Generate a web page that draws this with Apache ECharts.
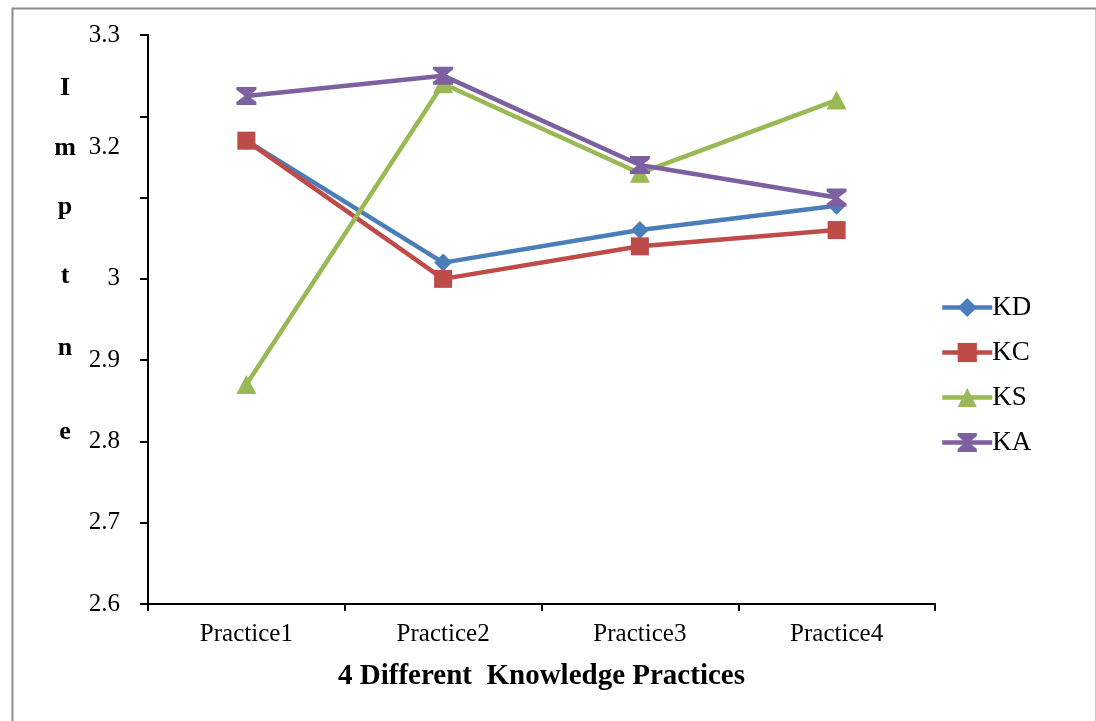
<!DOCTYPE html>
<html>
<head>
<meta charset="utf-8">
<script src="https://cdn.jsdelivr.net/npm/echarts@6/dist/echarts.min.js"></script>
<style>
  html, body { margin: 0; padding: 0; background: #ffffff; }
  #chart { width: 1096px; height: 721px; }
</style>
</head>
<body>
<div id="chart"></div>
<script>
// Categories and series values
const practices = ['Practice1', 'Practice2', 'Practice3', 'Practice4'];
const seriesNames = ['KD', 'KC', 'KS', 'KA'];
const kd = [3.17, 3.02, 3.06, 3.09];
const kc = [3.17, 3.00, 3.04, 3.06];
const ks = [2.87, 3.24, 3.13, 3.22];
const ka = [3.225, 3.25, 3.14, 3.10];
// Value axis tick labels (3.1 left unlabelled, 3.2 drawn separately below its tick)
const yTickLabels = { '2.6': '2.6', '2.7': '2.7', '2.8': '2.8', '2.9': '2.9', '3.0': '3', '3.3': '3.3' };
const yTitleLetters = ['I', 'm', 'p', 't', 'n', 'e'];
const xTitle = '4 Different  Knowledge Practices';

const FONT = '"Liberation Serif", "Times New Roman", serif';
const colors = ['#4A7EBB', '#BE4B48', '#98B954', '#7D60A0'];
const hourglass = 'path://M0,0 L10,0 L10,1.6 L6,5 L10,8.4 L10,10 L0,10 L0,8.4 L4,5 L0,1.6 Z';
const symbols = ['diamond', 'rect', 'triangle', hourglass];
const symbolSizes = [18, 18, [20, 19], [20, 18]];
const values = [kd, kc, ks, ka];

const chart = echarts.init(document.getElementById('chart'), null, { renderer: 'canvas' });

const series = seriesNames.map((name, i) => ({
  name: name,
  type: 'line',
  data: values[i],
  symbol: symbols[i],
  symbolSize: symbolSizes[i],
  showAllSymbol: true,
  lineStyle: { color: colors[i], width: 4.5 },
  itemStyle: { color: colors[i] },
  z: 2 + i
}));

const option = {
  animation: false,
  backgroundColor: '#ffffff',
  color: colors,
  grid: { left: 148, right: 161, top: 35, bottom: 117, containLabel: false },
  legend: {
    orient: 'vertical',
    left: 935,
    top: 289,
    itemWidth: 50,
    itemHeight: 24,
    itemGap: 18,
    lineStyle: { width: 4.5 },
    textStyle: { fontFamily: FONT, fontSize: 27, color: '#000', padding: [0, 0, 0, -5] },
    data: seriesNames
  },
  xAxis: {
    type: 'category',
    data: practices,
    boundaryGap: true,
    name: xTitle,
    nameLocation: 'middle',
    nameGap: 58,
    nameTextStyle: { fontFamily: FONT, fontSize: 29, fontWeight: 'bold', color: '#000' },
    axisLine: { lineStyle: { color: '#000', width: 2 } },
    axisTick: { show: true, alignWithLabel: false, length: 7, lineStyle: { color: '#000', width: 2 } },
    axisLabel: { fontFamily: FONT, fontSize: 25, color: '#000', margin: 18 },
    splitLine: { show: false }
  },
  yAxis: {
    type: 'value',
    min: 2.6,
    max: 3.3,
    interval: 0.1,
    axisLine: { show: true, lineStyle: { color: '#000', width: 2 } },
    axisTick: { show: true, length: 8, lineStyle: { color: '#000', width: 2 } },
    axisLabel: {
      fontFamily: FONT, fontSize: 25, color: '#000', margin: 28,
      formatter: function (v) {
        const key = v.toFixed(1);
        return yTickLabels[key] !== undefined ? yTickLabels[key] : '';
      }
    },
    splitLine: { show: false }
  },
  series: series
};

chart.setOption(option);

// Frame, vertical axis title letters and the offset 3.2 label
const y32 = chart.convertToPixel({ yAxisIndex: 0 }, 3.2);
const letterY = [88, 148, 207, 276, 348, 432];
const graphics = [
  {
    type: 'rect', left: 10, top: 6, z: -1, silent: true,
    shape: { width: 1084, height: 740 },
    style: { fill: 'none', stroke: '#8c8c8c', lineWidth: 2 }
  },
  {
    type: 'text', z: 10, x: 120, y: y32 + 31,
    style: { text: '3.2', font: '25px ' + FONT, fill: '#000', align: 'right', verticalAlign: 'middle' }
  }
];
yTitleLetters.forEach((ch, i) => {
  graphics.push({
    type: 'text', z: 10, x: 65, y: letterY[i],
    style: { text: ch, font: 'bold 26px ' + FONT, fill: '#000', align: 'center', verticalAlign: 'middle' }
  });
});
chart.setOption({ graphic: graphics });
</script>
</body>
</html>
